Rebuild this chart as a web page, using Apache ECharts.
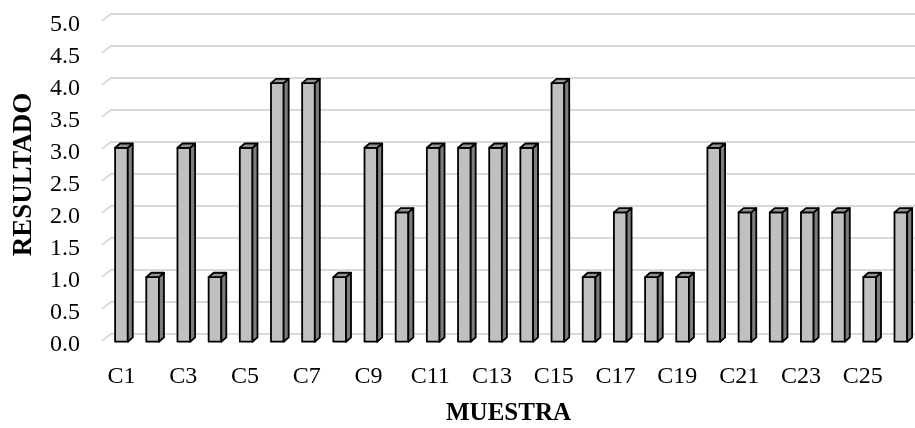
<!DOCTYPE html>
<html>
<head>
<meta charset="utf-8">
<script src="https://cdn.jsdelivr.net/npm/echarts@6/dist/echarts.min.js"></script>
<style>html,body{margin:0;padding:0;background:#fff;}#c{width:915px;height:428px;}</style>
</head>
<body>
<div id="c"></div>
<script>
var categories = ['C1','C2','C3','C4','C5','C6','C7','C8','C9','C10','C11','C12','C13','C14','C15','C16','C17','C18','C19','C20','C21','C22','C23','C24','C25','C26'];
var values = [3,1,3,1,3,4,4,1,3,2,3,3,3,3,4,1,2,1,1,3,2,2,2,2,1,2];
var yTicks = [0,0.5,1,1.5,2,2.5,3,3.5,4,4.5,5];
var xTitle = 'MUESTRA';
var yTitle = 'RESULTADO';

var chart = echarts.init(document.getElementById('c'), null, {renderer:'canvas'});
var FONT = '"Liberation Serif","Times New Roman",serif';

function renderBar(params, api) {
  var i = api.value(0), v = api.value(1);
  var top = api.coord([i, v]);
  var base = api.coord([i, 0]);
  var c0 = api.coord([0, 0]);
  var w = api.size([1, 0])[0] * 0.41;
  var fx = c0[0] - 6 + (top[0] - c0[0]) * 1.0094;
  var B = base[1] + 8.4;
  var T = B - (base[1] - top[1]) * 1.01;
  var L = fx - w / 2, R = fx + w / 2;
  var dx = 5, dy = 4.3;
  var st = {stroke:'#000', lineWidth:1.8, lineJoin:'round'};
  return {
    type:'group',
    children:[
      {type:'rect', shape:{x:L, y:T, width:w, height:B-T}, style:Object.assign({fill:'#c0c0c0'}, st)},
      {type:'polygon', shape:{points:[[R,T],[R+dx,T-dy],[R+dx,B-dy],[R,B]]}, style:Object.assign({fill:'#7c7c7c'}, st)},
      {type:'polygon', shape:{points:[[L,T],[R,T],[R+dx,T-dy],[L+dx,T-dy]]}, style:Object.assign({fill:'#929292'}, st)}
    ]
  };
}

function renderDiag(params, api) {
  var v = api.value(0);
  var p = api.coord([0, v]);
  var x0 = params.coordSys.x;
  return {
    type:'line',
    shape:{x1:x0 - 10, y1:p[1] + 7.5, x2:x0, y2:p[1]},
    style:{stroke:'#d9d9d9', lineWidth:2}
  };
}

chart.setOption({
  animation:false,
  backgroundColor:'#fff',
  grid:{left:112, right:0, top:13.3, bottom:94.7, containLabel:false, outerBoundsMode:'none'},
  xAxis:{
    type:'category', data:categories, boundaryGap:true,
    axisLine:{show:false}, axisTick:{show:false},
    axisLabel:{interval:1, margin:31, color:'#000', fontFamily:FONT, fontSize:24, lineHeight:24, padding:[0,12,0,0]}
  },
  yAxis:{
    type:'value', min:0, max:5, interval:0.5,
    axisLine:{show:false}, axisTick:{show:false},
    splitLine:{show:true, lineStyle:{color:'#d9d9d9', width:2}},
    axisLabel:{margin:32, color:'#000', fontFamily:FONT, fontSize:24, lineHeight:22, verticalAlign:'top',
      formatter:function(v){return v.toFixed(1);}}
  },
  graphic:[
    {type:'text', x:508.5, y:413.5, style:{text:xTitle, font:'bold 25px ' + FONT, fill:'#000', align:'center', verticalAlign:'middle'}},
    {type:'text', x:24, y:174.5, rotation:Math.PI/2, style:{text:yTitle, font:'bold 27px ' + FONT, fill:'#000', align:'center', verticalAlign:'middle'}}
  ],
  series:[
    {type:'custom', renderItem:renderDiag, data:yTicks.map(function(t){return [t];}), encode:{y:0}, silent:true, z:1},
    {type:'custom', renderItem:renderBar, data:values.map(function(v,i){return [i,v];}), encode:{x:0, y:1}, z:3}
  ]
});
</script>
</body>
</html>
